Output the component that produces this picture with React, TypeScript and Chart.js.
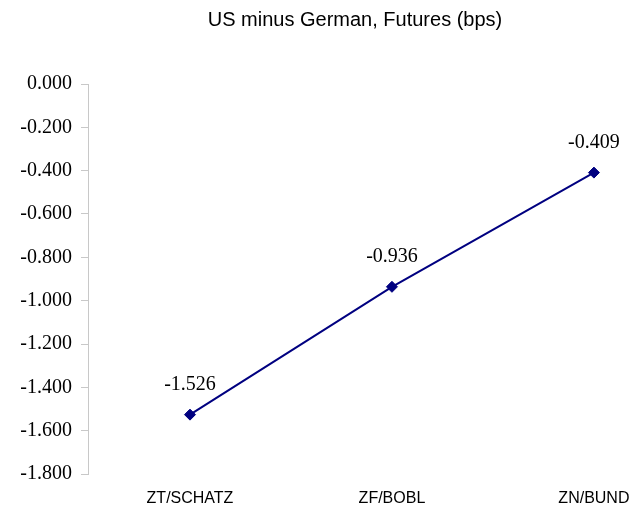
import React, { useEffect, useRef } from "react";
import { Chart, registerables } from "chart.js";

Chart.register(...registerables);

const categories = ["ZT/SCHATZ", "ZF/BOBL", "ZN/BUND"];
const spreadValues = [-1.526, -0.936, -0.409];
const yMin = -1.8;
const yMax = 0;
const yStep = 0.2;
const titleText = "US minus German, Futures (bps)";

const SERIF = "'Liberation Serif', 'Times New Roman', serif";
const SANS = "'Liberation Sans', Arial, sans-serif";

const labelPlugin = {
  id: "valueLabels",
  afterDatasetsDraw(chart: any) {
    const ctx = chart.ctx;
    const meta = chart.getDatasetMeta(0);
    ctx.save();
    ctx.font = `20px ${SERIF}`;
    ctx.fillStyle = "#000";
    ctx.textAlign = "center";
    ctx.textBaseline = "middle";
    meta.data.forEach((pt: any, i: number) => {
      ctx.fillText(spreadValues[i].toFixed(3), pt.x, pt.y - 30);
    });
    ctx.restore();
  },
};

const titlePlugin = {
  id: "customTitle",
  afterDraw(chart: any) {
    const ctx = chart.ctx;
    const a = chart.chartArea;
    ctx.save();
    ctx.font = `20px ${SANS}`;
    ctx.fillStyle = "#000";
    ctx.textAlign = "center";
    ctx.textBaseline = "middle";
    ctx.fillText(titleText, (a.left + a.right) / 2, 20);
    ctx.restore();
  },
};

export default function App() {
  const ref = useRef<HTMLCanvasElement>(null);
  useEffect(() => {
    if (!ref.current) return;
    const chart = new Chart(ref.current, {
      type: "line",
      data: {
        datasets: [
          {
            data: spreadValues.map((v, i) => ({ x: i, y: v })),
            borderColor: "#000080",
            backgroundColor: "#000080",
            borderWidth: 2,
            pointStyle: "rectRot",
            pointRadius: 5.5,
            pointBackgroundColor: "#000080",
            pointBorderColor: "#000080",
            pointBorderWidth: 1,
            tension: 0,
          },
        ],
      },
      options: {
        animation: false,
        responsive: false,
        layout: { padding: { left: 0, right: 9, top: 84, bottom: 0 } },
        plugins: {
          legend: { display: false },
          title: { display: false },
          tooltip: { enabled: false },
        },
        scales: {
          x: {
            type: "linear",
            min: -0.505,
            max: 2.139,
            afterBuildTicks: (scale: any) => {
              scale.ticks = categories.map((_, i) => ({ value: i }));
            },
            afterFit: (scale: any) => {
              scale.height = 34;
              scale.paddingLeft = 0;
              scale.paddingRight = 0;
            },
            grid: { display: false, drawTicks: false },
            border: { display: false },
            ticks: {
              padding: 15,
              autoSkip: false,
              maxRotation: 0,
              color: "#000",
              font: { family: SANS, size: 16, lineHeight: 1.2 },
              callback: (v: any) => categories[Math.round(Number(v))] ?? "",
            },
          },
          y: {
            min: yMin,
            max: yMax,
            afterFit: (scale: any) => {
              scale.width = 88;
              scale.paddingTop = 0;
              scale.paddingBottom = 0;
            },
            grid: {
              display: true,
              drawOnChartArea: false,
              drawTicks: true,
              tickLength: 7,
              color: "#c8c8c8",
              lineWidth: 1,
            },
            border: { display: true, color: "#c8c8c8", width: 1 },
            ticks: {
              stepSize: yStep,
              padding: 9,
              color: "#000",
              font: { family: SERIF, size: 20 },
              callback: (v: any) => Number(v).toFixed(3),
            },
          },
        },
      },
      plugins: [labelPlugin, titlePlugin],
    } as any);
    return () => chart.destroy();
  }, []);
  return (
    <div style={{ position: "absolute", left: 0, top: 0, width: 631, height: 508, background: "#fff" }}>
      <canvas ref={ref} width={631} height={508} style={{ display: "block" }} />
    </div>
  );
}
